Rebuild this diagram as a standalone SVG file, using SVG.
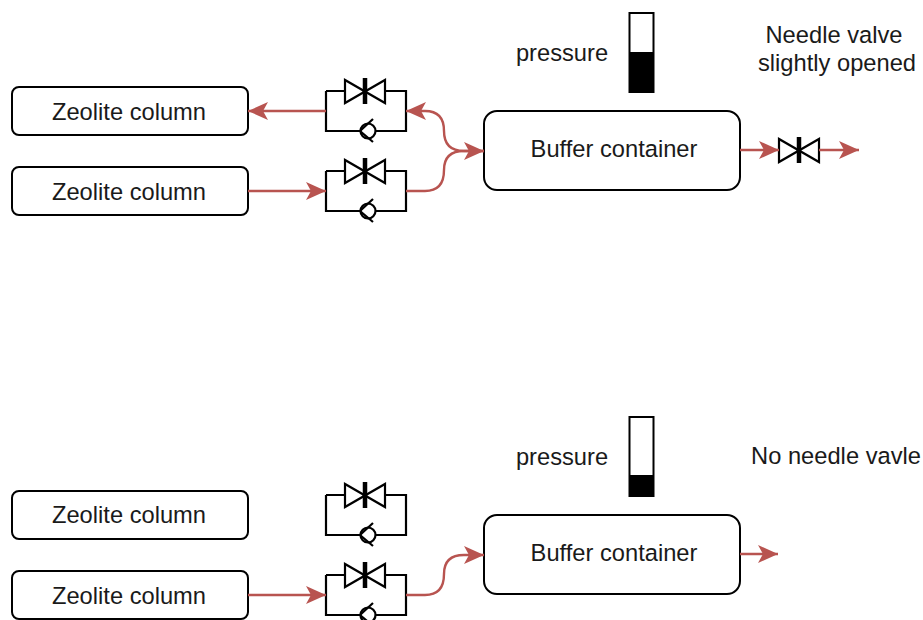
<svg xmlns="http://www.w3.org/2000/svg" width="923" height="620" viewBox="0 0 923 620">
<style>
.box{fill:#fff;stroke:#000;stroke-width:2}
.t{font-family:"Liberation Sans",Arial,sans-serif;font-size:23.7px;fill:#1a1a1a;text-anchor:middle}
.k{fill:none;stroke:#000;stroke-width:2.200}
.c{fill:none;stroke:#b85450;stroke-width:2.400;marker-end:url(#a)}
</style>
<defs>
<marker id="a" markerUnits="userSpaceOnUse" markerWidth="24" markerHeight="24" refX="20" refY="11" orient="auto"><path d="M0 2L20 11L0 20L5 11Z" fill="#b85450" stroke="none"/></marker>
<g id="needle"><path class="k" d="M-20-11V12L20-11V12Z"/><path d="M0-13V13" stroke="#000" stroke-width="4.500" fill="none"/></g>
<g id="vv"><path class="k" d="M326 0H345M385 0H406V40H375M361 40H326V0"/><use href="#needle" x="365" y="0"/><circle class="k" cx="368" cy="40" r="7.500"/><path class="k" d="M373 28L360 40L373 51"/></g>
</defs>
<g id="column-1"><rect class="box" x="12" y="87" width="236" height="48" rx="7"/><text class="t" x="129" y="120">Zeolite column</text></g>
<g id="column-2"><rect class="box" x="12" y="167" width="236" height="48" rx="7"/><text class="t" x="129" y="200">Zeolite column</text></g>
<g id="column-3"><rect class="box" x="12" y="491" width="236" height="48" rx="7"/><text class="t" x="129" y="523">Zeolite column</text></g>
<g id="column-4"><rect class="box" x="12" y="571" width="236" height="48" rx="7"/><text class="t" x="129" y="604">Zeolite column</text></g>
<g id="buffer-1"><rect class="box" x="484" y="111" width="256" height="79" rx="13"/><text class="t" x="614" y="157">Buffer container</text></g>
<g id="buffer-2"><rect class="box" x="484" y="515" width="256" height="79" rx="13"/><text class="t" x="614" y="561">Buffer container</text></g>
<g id="valves-1"><use href="#vv" y="91"/></g>
<g id="valves-2"><use href="#vv" y="171"/></g>
<g id="valves-3"><use href="#vv" y="495"/></g>
<g id="valves-4"><use href="#vv" y="575"/></g>
<g id="needle-valve"><use href="#needle" x="799" y="150"/></g>
<g id="gauge-1"><rect class="box" x="629.500" y="13" width="24" height="79"/><rect x="629" y="52" width="25" height="40.500" fill="#000"/><text class="t" x="562" y="61">pressure</text></g>
<g id="gauge-2"><rect class="box" x="629.500" y="417" width="24" height="79"/><rect x="629" y="475" width="25" height="21.500" fill="#000"/><text class="t" x="562" y="465">pressure</text></g>
<g id="note-1"><text class="t" x="834" y="43">Needle valve</text><text class="t" x="837" y="71">slightly opened</text></g>
<g id="note-2"><text class="t" x="836" y="464">No needle vavle</text></g>
<g id="connectors">
<path class="c" d="M326 111H248"/>
<path class="c" d="M248 191H326"/>
<path class="c" d="M406 191H425Q444 191 444 170Q444 151 464 151H484"/>
<path class="c" d="M484 151H464Q444 151 444 131Q444 111 425 111H406"/>
<path class="c" d="M740 150H779"/>
<path class="c" d="M819 150H859"/>
<path class="c" d="M248 595H326"/>
<path class="c" d="M406 595H425Q444 595 444 574Q444 555 464 555H484"/>
<path class="c" d="M740 554H778"/>
</g>
</svg>
